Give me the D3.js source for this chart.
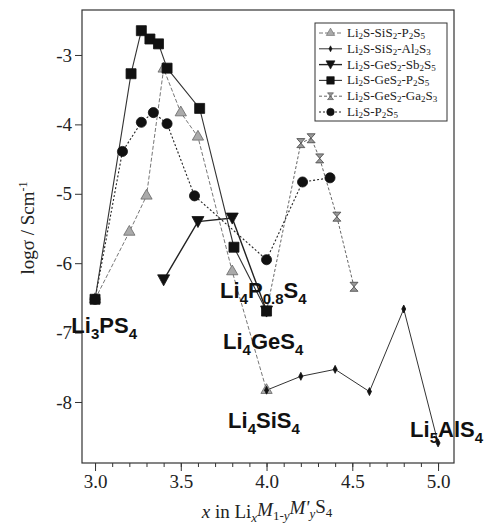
<!DOCTYPE html>
<html><head><meta charset="utf-8">
<script src="https://cdn.jsdelivr.net/npm/d3@7"></script>
<style>body{margin:0;background:#fff}</style>
</head><body><svg id="c" width="490" height="531"></svg>
<script>
// ---- data ----
const xSiP = [3.0, 3.2, 3.3, 3.4, 3.5, 3.6, 3.8, 4.0];
const ySiP = [-6.52, -5.55, -5.03, -3.2, -3.83, -4.18, -6.12, -7.83];
const xSiAl = [4.0, 4.2, 4.4, 4.6, 4.8, 5.0];
const ySiAl = [-7.83, -7.63, -7.53, -7.85, -6.66, -8.59];
const xGeSb = [3.4, 3.6, 3.8, 4.0];
const yGeSb = [-6.24, -5.40, -5.35, -6.69];
const xGeP = [3.0, 3.21, 3.27, 3.32, 3.37, 3.42, 3.61, 3.81, 4.0];
const yGeP = [-6.52, -3.27, -2.65, -2.77, -2.84, -3.19, -3.77, -5.77, -6.69];
const xGeGa = [4.0, 4.2, 4.26, 4.31, 4.41, 4.51];
const yGeGa = [-6.69, -4.27, -4.2, -4.49, -5.33, -6.34];
const xP = [3.0, 3.16, 3.27, 3.34, 3.42, 3.58, 4.0, 4.21, 4.37];
const yP = [-6.52, -4.39, -3.97, -3.83, -3.99, -5.03, -5.95, -4.83, -4.77];

const seriesNames = ["Li_2S-SiS_2-P_2S_5", "Li_2S-SiS_2-Al_2S_3", "Li_2S-GeS_2-Sb_2S_5",
                     "Li_2S-GeS_2-P_2S_5", "Li_2S-GeS_2-Ga_2S_3", "Li_2S-P_2S_5"];
const xTicks = [3.0, 3.5, 4.0, 4.5, 5.0];
const yTicks = [-3, -4, -5, -6, -7, -8];
// compound annotations: name, x value, y value (baseline)
const annNames = ["Li_3PS_4", "Li_4P_0.8S_4", "Li_4GeS_4", "Li_4SiS_4", "Li_5AlS_4"];
const annX = [2.862, 3.729, 3.746, 3.776, 4.837];
const annY = [-7.0, -6.50, -7.24, -8.37, -8.50];

// ---- setup ----
const svg = d3.select("#c");
const x = d3.scaleLinear().domain([2.924, 5.093]).range([82, 454]);
const y = d3.scaleLinear().domain([-8.879, -2.352]).range([463, 10]);
const serif = "'Liberation Serif','Times New Roman',serif";
const sans = "'Liberation Sans',Arial,sans-serif";

function richText(sel, str, subSize, shift) {
  const parts = [];
  let i = 0;
  while (i < str.length) {
    if (str[i] === "_") {
      let j = i + 1; let s = "";
      while (j < str.length && /[0-9.]/.test(str[j])) { s += str[j]; j++; }
      parts.push({t: s, sub: true}); i = j;
    } else {
      let s = "";
      while (i < str.length && str[i] !== "_") { s += str[i]; i++; }
      parts.push({t: s, sub: false});
    }
  }
  let down = false;
  parts.forEach(p => {
    const ts = sel.append("tspan").text(p.t);
    if (p.sub && !down) { ts.attr("dy", shift).attr("font-size", subSize); down = true; }
    else if (p.sub) { ts.attr("font-size", subSize); }
    else if (!p.sub && down) { ts.attr("dy", -shift); down = false; }
  });
}

// ---- frame ----
svg.append("rect").attr("x", 82).attr("y", 10).attr("width", 372).attr("height", 453)
  .attr("fill", "none").attr("stroke", "#333").attr("stroke-width", 1.2);

// axes
const xMinor = d3.range(29, 51).map(d => d / 10).filter(d => x(d) >= 82 && x(d) <= 454);
svg.append("g").attr("transform", "translate(0,463)")
  .call(d3.axisBottom(x).tickValues(xMinor).tickSize(4).tickFormat(""))
  .call(g => g.select(".domain").remove())
  .call(g => g.selectAll("line").attr("stroke", "#333"));
const xa = svg.append("g").attr("transform", "translate(0,463)")
  .call(d3.axisBottom(x).tickValues(xTicks).tickSize(8).tickPadding(4).tickFormat(d3.format(".1f")));
xa.select(".domain").remove();
xa.selectAll("line").attr("stroke", "#333");
xa.selectAll("text").attr("font-family", serif).attr("font-size", 19).attr("fill", "#222");

const ya = svg.append("g").attr("transform", "translate(82,0)")
  .call(d3.axisLeft(y).tickValues(yTicks).tickSize(7).tickPadding(3).tickFormat(d => String(d)));
ya.select(".domain").remove();
ya.selectAll("line").attr("stroke", "#333");
ya.selectAll("text").attr("font-family", serif).attr("font-size", 19).attr("fill", "#222");

// axis titles
const yl = svg.append("text").attr("transform", "translate(34,228) rotate(-90)")
  .attr("text-anchor", "middle").attr("font-family", serif).attr("font-size", 19).attr("fill", "#222");
yl.append("tspan").text("logσ / Scm");
yl.append("tspan").text("-1").attr("font-size", 12).attr("dy", "-0.55em");

const xl = svg.append("text").attr("x", 267).attr("y", 518).attr("text-anchor", "middle")
  .attr("font-family", serif).attr("font-size", 19).attr("fill", "#222");
xl.append("tspan").text("x").attr("font-style", "italic");
xl.append("tspan").text(" in Li");
xl.append("tspan").text("x").attr("font-style", "italic").attr("font-size", 13).attr("dy", "0.3em");
xl.append("tspan").text("M").attr("font-style", "italic").attr("dy", "-0.3em");
xl.append("tspan").text("1-").attr("font-size", 13).attr("dy", "0.3em");
xl.append("tspan").text("y").attr("font-style", "italic").attr("font-size", 13);
xl.append("tspan").text("M'").attr("font-style", "italic").attr("dy", "-0.3em");
xl.append("tspan").text("y").attr("font-style", "italic").attr("font-size", 13).attr("dy", "0.3em");
xl.append("tspan").text("S").attr("dy", "-0.3em");
xl.append("tspan").text("4").attr("font-size", 13).attr("dy", "0.3em");

// ---- series ----
const hourglass = "M-4,-4.5L4,-4.5L-4,4.5L4,4.5Z";
const diamond = "M0,-4L2,0L0,4L-2,0Z";
const styles = [
  {xs: xSiP, ys: ySiP, stroke: "#777", dash: "4,2", w: 1, mk: d3.symbol(d3.symbolTriangle, 55)(), fill: "#aaa", mstroke: "#666"},
  {xs: xSiAl, ys: ySiAl, stroke: "#333", dash: null, w: 1, mk: diamond, fill: "#111", mstroke: "#111"},
  {xs: xGeSb, ys: yGeSb, stroke: "#222", dash: null, w: 1.4, mk: "M-6,-5L6,-5L0,6Z", fill: "#111", mstroke: "#111"},
  {xs: xGeP, ys: yGeP, stroke: "#333", dash: null, w: 1.1, mk: d3.symbol(d3.symbolSquare, 100)(), fill: "#111", mstroke: "#111"},
  {xs: xGeGa, ys: yGeGa, stroke: "#666", dash: "3,2", w: 1, mk: hourglass, fill: "#999", mstroke: "#444"},
  {xs: xP, ys: yP, stroke: "#222", dash: "2,2", w: 1.1, mk: d3.symbol(d3.symbolCircle, 80)(), fill: "#111", mstroke: "#111"}
];
const line = d3.line().x(d => x(d[0])).y(d => y(d[1]));
const drawOrder = [0, 4, 1, 2, 5, 3];
drawOrder.forEach(k => {
  const s = styles[k];
  const pts = s.xs.map((v, i) => [v, s.ys[i]]);
  svg.append("path").attr("d", line(pts)).attr("fill", "none").attr("stroke", s.stroke)
    .attr("stroke-width", s.w).attr("stroke-dasharray", s.dash);
});
drawOrder.forEach(k => {
  const s = styles[k];
  const pts = s.xs.map((v, i) => [v, s.ys[i]]);
  svg.append("g").selectAll("path").data(pts).join("path")
    .attr("transform", d => `translate(${x(d[0])},${y(d[1])})`)
    .attr("d", s.mk).attr("fill", s.fill).attr("stroke", s.mstroke).attr("stroke-width", 0.8);
});

// ---- annotations ----
annNames.forEach((n, i) => {
  const t = svg.append("text").attr("x", x(annX[i])).attr("y", y(annY[i]))
    .attr("font-family", sans).attr("font-weight", "bold").attr("font-size", 22).attr("fill", "#111");
  richText(t, n, 15, 6);
});

// ---- legend ----
const lg = svg.append("g");
lg.append("rect").attr("x", 315).attr("y", 23).attr("width", 132).attr("height", 98)
  .attr("fill", "#fff").attr("stroke", "#333").attr("stroke-width", 1);
seriesNames.forEach((n, i) => {
  const s = styles[i];
  const cy = 33 + i * 15.8;
  lg.append("line").attr("x1", 319).attr("x2", 342).attr("y1", cy).attr("y2", cy)
    .attr("stroke", s.stroke).attr("stroke-width", s.w).attr("stroke-dasharray", s.dash);
  lg.append("path").attr("transform", `translate(330.5,${cy}) scale(0.75)`).attr("d", s.mk)
    .attr("fill", s.fill).attr("stroke", s.mstroke).attr("stroke-width", 0.8);
  const t = lg.append("text").attr("x", 347).attr("y", cy + 4).attr("font-family", serif)
    .attr("font-size", 13).attr("fill", "#222");
  richText(t, n, 9, 2);
});
</script></body></html>
